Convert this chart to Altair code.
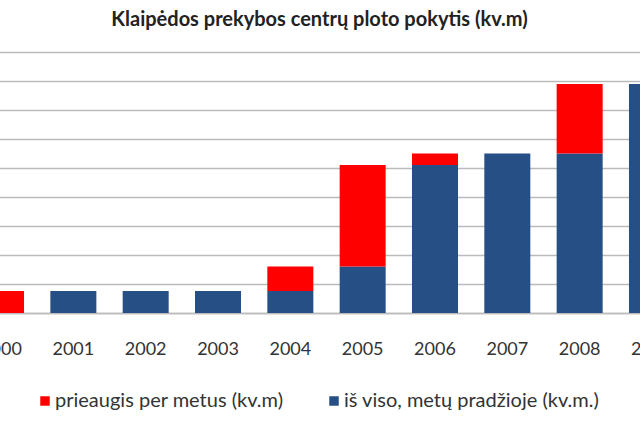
import altair as alt
import pandas as pd

years = ["2000", "2001", "2002", "2003", "2004", "2005", "2006", "2007", "2008", "2009"]
total_start = [0, 7600, 7600, 7600, 7600, 16000, 51000, 55000, 55000, 79000]
growth = [7600, 0, 0, 0, 8400, 35000, 4000, 0, 24000, 0]

s_red = "prieaugis per metus (kv.m)"
s_blue = "iš viso, metų pradžioje (kv.m.)"

rows = []
for y, b, r in zip(years, total_start, growth):
    rows.append({"year": y, "series": s_blue, "value": b, "ord": 0})
    rows.append({"year": y, "series": s_red, "value": r, "ord": 1})
df = pd.DataFrame(rows)

FONT = "Lato"

chart = alt.Chart(df).mark_bar().encode(
    x=alt.X("year:N", sort=years,
            scale=alt.Scale(paddingInner=0.364, paddingOuter=0.18),
            axis=alt.Axis(title=None, labelAngle=0, ticks=False, domain=True,
                          domainColor="#BBBBBB", domainWidth=1.5,
                          labelFont=FONT, labelFontSize=18, labelColor="#333333",
                          labelPadding=27)),
    y=alt.Y("value:Q", stack="zero",
            scale=alt.Scale(domain=[0, 90000], nice=False),
            axis=alt.Axis(title=None, labels=False, ticks=False, domain=False,
                          values=list(range(0, 90001, 10000)),
                          gridColor="#BBBBBB", gridWidth=1.5)),
    color=alt.Color("series:N",
                    scale=alt.Scale(domain=[s_red, s_blue], range=["#FF0000", "#254F85"]),
                    legend=alt.Legend(title=None, orient="none", direction="horizontal",
                                      legendX=70, legendY=339, symbolType="square",
                                      symbolSize=90, symbolStrokeWidth=0,
                                      labelFont=FONT, labelFontSize=20, labelColor="#333333",
                                      columnPadding=40, labelOffset=0, padding=0,
                                      labelLimit=400)),
    order=alt.Order("ord:Q", sort="ascending"),
).properties(
    width=723,
    height=261,
    padding={"left": -35, "top": 52, "right": -48, "bottom": 109},
    autosize=alt.AutoSizeParams(type="none"),
    title=alt.TitleParams("Klaipėdos prekybos centrų ploto pokytis (kv.m)",
                          font=FONT, fontSize=20, fontWeight="bold", color="#222222",
                          anchor="middle", dx=-7, offset=22),
).configure_view(stroke=None).configure(background="white")

chart.save("out.html", embed_options={"renderer": "svg", "actions": False})
